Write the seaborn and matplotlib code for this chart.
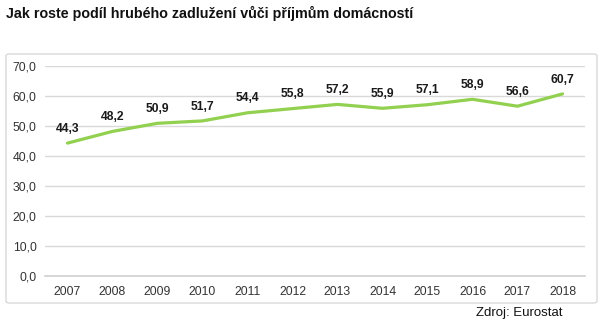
import matplotlib
matplotlib.use("Agg")
import matplotlib.pyplot as plt
from matplotlib.patches import FancyBboxPatch
import seaborn as sns
import pandas as pd

years = ["2007", "2008", "2009", "2010", "2011", "2012",
         "2013", "2014", "2015", "2016", "2017", "2018"]
ratio = [44.3, 48.2, 50.9, 51.7, 54.4, 55.8, 57.2, 55.9, 57.1, 58.9, 56.6, 60.7]
y_ticks = [0, 10, 20, 30, 40, 50, 60, 70]

title = "Jak roste podíl hrubého zadlužení vůči příjmům domácností"
source = "Zdroj: Eurostat"

sns.set_theme(style="white")
plt.rcParams["font.family"] = ["Liberation Sans", "DejaVu Sans"]

df = pd.DataFrame({"rok": years, "podil": ratio})

fig = plt.figure(figsize=(6.03, 3.26), dpi=100)
fig.patch.set_facecolor("white")

# chart frame
frame = FancyBboxPatch((6 / 603, 1 - 303 / 326), (597 - 6) / 603, (303 - 54) / 326,
                       boxstyle="round,pad=0,rounding_size=0.006",
                       transform=fig.transFigure, facecolor="white",
                       edgecolor="#d9d9d9", linewidth=1.0, zorder=-5)
fig.patches.append(frame)

ax = fig.add_axes([45 / 603, 1 - 276 / 326, (585 - 45) / 603, (276 - 66) / 326])
ax.set_zorder(2)
ax.set_facecolor("none")

sns.lineplot(data=df, x="rok", y="podil", ax=ax, color="#92D050",
             linewidth=2.3, sort=False, zorder=3)

for i, v in enumerate(ratio):
    ax.annotate(f"{v:.1f}".replace(".", ","), (i, v), xytext=(0, 6),
                textcoords="offset points", ha="center", va="bottom",
                fontsize=8.7, fontweight="bold", color="#1a1a1a")

ax.set_xlim(-0.5, len(years) - 0.5)
ax.set_ylim(0, 70)
ax.set_yticks(y_ticks)
ax.set_yticklabels([f"{t:.1f}".replace(".", ",") for t in y_ticks])
ax.yaxis.grid(True, color="#d9d9d9", linewidth=1.0)
ax.set_axisbelow(True)
for s in ["top", "right", "left"]:
    ax.spines[s].set_visible(False)
ax.spines["bottom"].set_color("#d0d0d0")
ax.spines["bottom"].set_linewidth(1.2)
ax.tick_params(axis="both", length=0, labelsize=8.8, labelcolor="#333333")
ax.tick_params(axis="x", pad=7)
ax.tick_params(axis="y", pad=6)
ax.set_xlabel("")
ax.set_ylabel("")

fig.text(6 / 603, 1 - 13 / 326, title, fontsize=10.3, fontweight="bold",
         ha="left", va="center", color="#111111")
fig.text(562 / 603, 1 - 313 / 326, source, fontsize=9.5, ha="right",
         va="center", color="#111111")

fig.savefig("out.png", dpi=100)
